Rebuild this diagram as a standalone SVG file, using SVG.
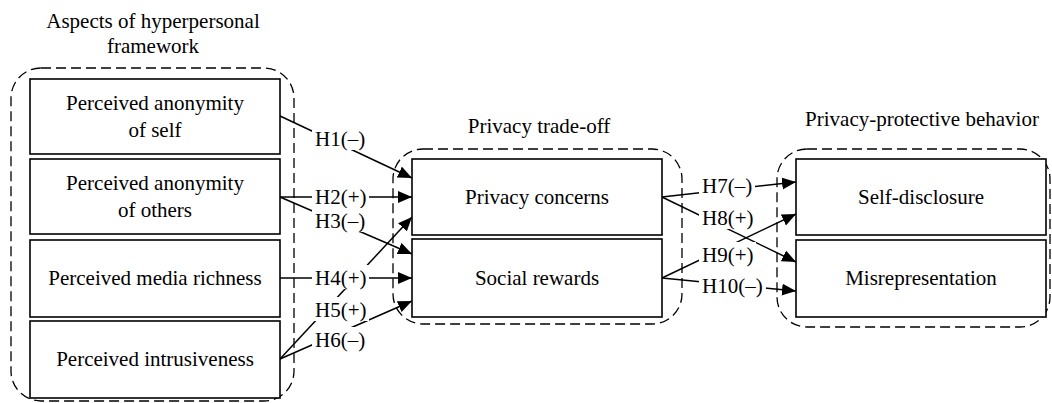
<svg xmlns="http://www.w3.org/2000/svg" width="1052" height="403" viewBox="0 0 1052 403">
<style>
  text { font-family: "Liberation Serif", "Times New Roman", serif; font-size: 21px; fill: #000; }
  .c { text-anchor: middle; }
  .grp { fill: none; stroke: #000; stroke-width: 1.3; stroke-dasharray: 10 5; }
  .box { fill: #fff; stroke: #000; stroke-width: 1.6; }
  .edge { stroke: #000; stroke-width: 1.5; fill: none; marker-end: url(#arr); }
  .bg { fill: #fff; stroke: none; }
</style>
<defs>
  <marker id="arr" markerUnits="userSpaceOnUse" markerWidth="15" markerHeight="13" refX="14" refY="6" orient="auto">
    <path d="M0,0 L14,6 L0,12 z" fill="#000"/>
  </marker>
</defs>
<rect width="1052" height="403" fill="#fff"/>

<g id="group-hyperpersonal">
  <rect class="grp" x="11" y="68" width="283" height="333" rx="30" ry="30"/>
  <text class="c" x="153" y="28">Aspects of hyperpersonal</text>
  <text class="c" x="153" y="53">framework</text>
</g>
<g id="group-tradeoff">
  <rect class="grp" x="393" y="149" width="289" height="175" rx="30" ry="30"/>
  <text class="c" x="539" y="133">Privacy trade-off</text>
</g>
<g id="group-protective">
  <rect class="grp" x="777" y="149" width="273" height="178" rx="30" ry="30"/>
  <text class="c" x="922" y="126">Privacy-protective behavior</text>
</g>

<g id="connectors">
  <line class="edge" x1="280" y1="116" x2="412" y2="178"/>
  <line class="edge" x1="280" y1="197" x2="412" y2="197"/>
  <line class="edge" x1="280" y1="197" x2="412" y2="254"/>
  <line class="edge" x1="280" y1="278" x2="412" y2="278"/>
  <line class="edge" x1="280" y1="359" x2="412" y2="217"/>
  <line class="edge" x1="280" y1="359" x2="412" y2="301"/>
  <line class="edge" x1="662" y1="197" x2="796" y2="182"/>
  <line class="edge" x1="662" y1="197" x2="796" y2="262"/>
  <line class="edge" x1="662" y1="278" x2="796" y2="214"/>
  <line class="edge" x1="662" y1="278" x2="796" y2="291"/>
</g>

<g id="labels">
  <rect class="bg" x="312" y="126" width="56" height="24"/><text x="315" y="146">H1(–)</text>
  <rect class="bg" x="312" y="184" width="57" height="24"/><text x="315" y="204">H2(+)</text>
  <rect class="bg" x="312" y="208" width="56" height="24"/><text x="315" y="228">H3(–)</text>
  <rect class="bg" x="312" y="265" width="57" height="24"/><text x="315" y="285">H4(+)</text>
  <rect class="bg" x="312" y="297" width="57" height="24"/><text x="315" y="317">H5(+)</text>
  <rect class="bg" x="312" y="327" width="56" height="24"/><text x="315" y="347">H6(–)</text>
  <rect class="bg" x="699" y="173" width="56" height="24"/><text x="702" y="193">H7(–)</text>
  <rect class="bg" x="699" y="205" width="57" height="24"/><text x="702" y="225">H8(+)</text>
  <rect class="bg" x="699" y="242" width="57" height="24"/><text x="702" y="262">H9(+)</text>
  <rect class="bg" x="699" y="273" width="67" height="24"/><text x="702" y="293">H10(–)</text>
</g>

<g id="node-anon-self">
  <rect class="box" x="30" y="79" width="250" height="75"/>
  <text class="c" x="155" y="110">Perceived anonymity</text>
  <text class="c" x="155" y="137">of self</text>
</g>
<g id="node-anon-others">
  <rect class="box" x="30" y="159" width="250" height="75"/>
  <text class="c" x="155" y="190">Perceived anonymity</text>
  <text class="c" x="155" y="217">of others</text>
</g>
<g id="node-media-richness">
  <rect class="box" x="30" y="240" width="250" height="77"/>
  <text class="c" x="155" y="285">Perceived media richness</text>
</g>
<g id="node-intrusiveness">
  <rect class="box" x="30" y="321" width="250" height="77"/>
  <text class="c" x="155" y="366">Perceived intrusiveness</text>
</g>
<g id="node-privacy-concerns">
  <rect class="box" x="412" y="159" width="250" height="76"/>
  <text class="c" x="537" y="204">Privacy concerns</text>
</g>
<g id="node-social-rewards">
  <rect class="box" x="412" y="239" width="250" height="78"/>
  <text class="c" x="537" y="285">Social rewards</text>
</g>
<g id="node-self-disclosure">
  <rect class="box" x="796" y="159" width="250" height="76"/>
  <text class="c" x="921" y="204">Self-disclosure</text>
</g>
<g id="node-misrepresentation">
  <rect class="box" x="796" y="240" width="250" height="77"/>
  <text class="c" x="921" y="285">Misrepresentation</text>
</g>
</svg>
